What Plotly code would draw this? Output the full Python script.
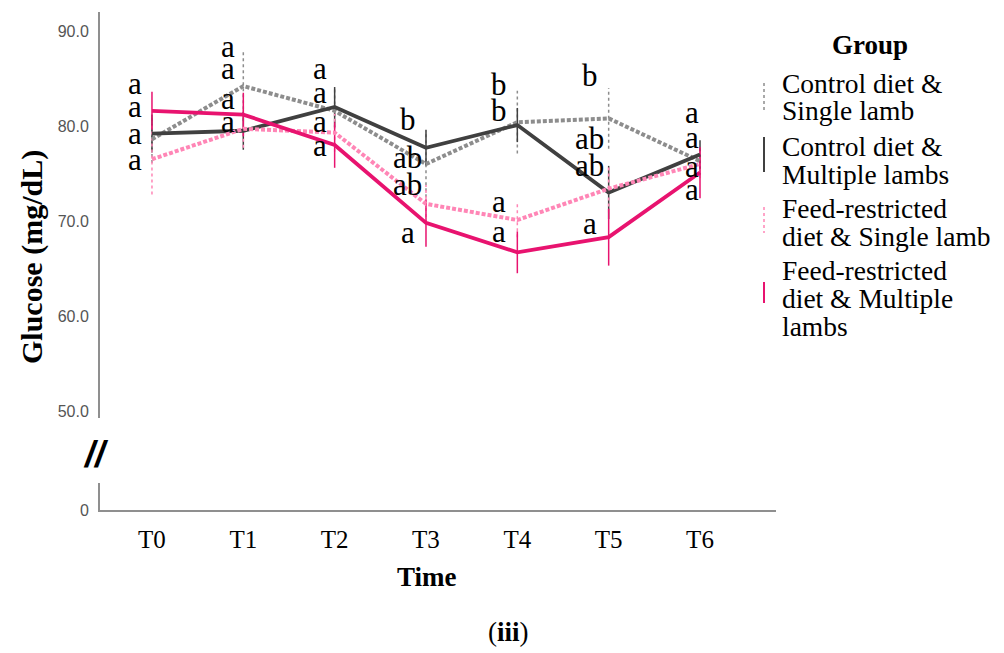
import plotly.graph_objects as go

# ---------------- data ----------------
categories = ["T0", "T1", "T2", "T3", "T4", "T5", "T6"]

ctrl_single = [78.6, 84.2, 81.6, 76.0, 80.4, 80.8, 76.3]
ctrl_single_err = [2.5, 3.7, 2.5, 3.5, 3.3, 3.2, 1.5]
ctrl_multi = [79.2, 79.5, 82.0, 77.7, 80.1, 73.0, 77.0]
ctrl_multi_err = [2.0, 2.0, 2.1, 1.9, 1.8, 2.8, 1.5]
feed_single = [76.5, 79.7, 79.3, 71.8, 70.1, 73.4, 76.0]
feed_single_err = [3.7, 2.0, 2.0, 2.0, 1.8, 2.5, 1.5]
feed_multi = [81.6, 81.2, 78.0, 69.8, 66.7, 68.3, 75.1]
feed_multi_err = [2.0, 2.3, 2.4, 2.5, 2.2, 3.0, 2.7]

# significance letters (top to bottom at each time point) and their heights
letters = [
    ["a", "a", "a", "a"],
    ["a", "a", "a", "a"],
    ["a", "a", "a", "a"],
    ["b", "ab", "ab", "a"],
    ["b", "b", "a", "a"],
    ["b", "ab", "ab", "a"],
    ["a", "a", "a", "a"],
]
letter_y = [
    [84.5, 82.1, 79.2, 76.5],
    [88.4, 86.0, 82.9, 80.5],
    [86.0, 83.5, 80.5, 77.9],
    [80.7, 76.7, 73.8, 68.8],
    [84.4, 81.6, 72.1, 68.9],
    [85.3, 78.7, 75.8, 69.7],
    [81.4, 78.8, 75.7, 73.3],
]
letter_xshift = [-17, -15, -15, -18, -18, -19, -8]

group_names = [
    ["Control diet &", "Single lamb"],
    ["Control diet &", "Multiple lambs"],
    ["Feed-restricted", "diet & Single lamb"],
    ["Feed-restricted", "diet & Multiple", "lambs"],
]

# ---------------- styles ----------------
SERIF = "Liberation Serif, Times New Roman, serif"
SANS = "Liberation Sans, Arial, sans-serif"
W, H = 1004, 653

series = [
    (ctrl_single, ctrl_single_err, "#8d8d8d", "4px,2px", "3px,3px", 4),
    (ctrl_multi, ctrl_multi_err, "#404040", "solid", "solid", 3.8),
    (feed_single, feed_single_err, "#ff86b6", "4px,2px", "3px,3px", 4),
    (feed_multi, feed_multi_err, "#e8136f", "solid", "solid", 3.8),
]

xs = list(range(len(categories)))
fig = go.Figure()

for (vals, errs, color, dash, edash, lw), names in zip(series, group_names):
    ex, ey = [], []
    for i, (v, e) in enumerate(zip(vals, errs)):
        ex += [i, i, None]
        ey += [v - e, v + e, None]
    fig.add_trace(go.Scatter(x=ex, y=ey, mode="lines", xaxis="x", yaxis="y",
                             line=dict(color=color, width=1.5, dash=edash),
                             showlegend=False, hoverinfo="skip"))
for (vals, errs, color, dash, edash, lw), names in zip(series, group_names):
    fig.add_trace(go.Scatter(x=xs, y=vals, mode="lines", xaxis="x", yaxis="y",
                             name=" ".join(names),
                             line=dict(color=color, width=lw, dash=dash),
                             showlegend=False))

# invisible trace to hold the lower (broken) axis segment
fig.add_trace(go.Scatter(x=[0], y=[0], xaxis="x", yaxis="y2", mode="markers",
                         marker=dict(opacity=0), showlegend=False, hoverinfo="skip"))

ann = []
for i, (labs, ys, dx) in enumerate(zip(letters, letter_y, letter_xshift)):
    for t, yv in zip(labs, ys):
        ann.append(dict(x=i, y=yv, xref="x", yref="y", text=t, showarrow=False,
                        xanchor="center", yanchor="middle",
                        xshift=dx, font=dict(family=SERIF, size=31, color="black")))

def px(x):
    return x / W

def py(y):
    return 1 - y / H

def paper_text(x, y, text, size, family=SERIF, xanchor="center", **kw):
    return dict(x=px(x), y=py(y), xref="paper", yref="paper", text=text,
                xanchor=xanchor, yanchor="middle", showarrow=False,
                font=dict(family=family, size=size, color="black"), **kw)

# axis titles and caption
ann.append(paper_text(32, 257, "<b>Glucose (mg/dL)</b>", 30, textangle=-90))
ann.append(paper_text(427, 577, "<b>Time</b>", 27))
ann.append(paper_text(508, 632, "(<b>iii</b>)", 27))
ann.append(paper_text(96, 454, "<i><b>//</b></i>", 36, family=SANS))

# custom legend
ann.append(paper_text(870, 45, "<b>Group</b>", 27))
line_rows = [[84, 111], [146, 174], [208, 236], [270, 298, 326]]
for names, rows in zip(group_names, line_rows):
    for t, yy in zip(names, rows):
        ann.append(paper_text(780, yy, t, 27.5, xanchor="left"))

sym_rows = [(83, 110), (137, 172), (207, 233), (282, 303)]
shapes = []
for (vals, errs, color, dash, edash, lw), (y0, y1) in zip(series, sym_rows):
    shapes.append(dict(type="line", xref="paper", yref="paper",
                       x0=px(764), x1=px(764), y0=py(y0), y1=py(y1),
                       line=dict(color=color, width=2 if edash == "solid" else 1.5,
                                 dash="solid" if edash == "solid" else "3px,3px")))

axis_color = "#8f8f8f"
fig.update_layout(
    width=W, height=H,
    margin=dict(l=0, r=0, t=0, b=0, autoexpand=False),
    paper_bgcolor="white", plot_bgcolor="white",
    showlegend=False,
    xaxis=dict(domain=[px(100), px(776)], range=[-0.569, 6.832], anchor="y2",
               tickmode="array", tickvals=xs, ticktext=categories,
               showline=True, linecolor=axis_color, linewidth=2, showgrid=False,
               zeroline=False, ticks="", ticklabelstandoff=6,
               tickfont=dict(family=SERIF, size=25, color="black")),
    yaxis=dict(domain=[py(418), py(12)], range=[49.26, 92.0], anchor="x",
               tickmode="array", tickvals=[50, 60, 70, 80, 90], tickformat=".1f",
               showline=True, linecolor=axis_color, linewidth=2, showgrid=False,
               zeroline=False, ticks="", ticklabelstandoff=6,
               tickfont=dict(family=SANS, size=16, color="#555555")),
    yaxis2=dict(domain=[py(510), py(483)], range=[0, 2.84], anchor="x",
                tickmode="array", tickvals=[0], ticktext=["0"],
                showline=True, linecolor=axis_color, linewidth=2, showgrid=False,
                zeroline=False, ticks="", ticklabelstandoff=6,
                tickfont=dict(family=SANS, size=16, color="#555555")),
    annotations=ann,
    shapes=shapes,
)

fig.write_html("out.html")
